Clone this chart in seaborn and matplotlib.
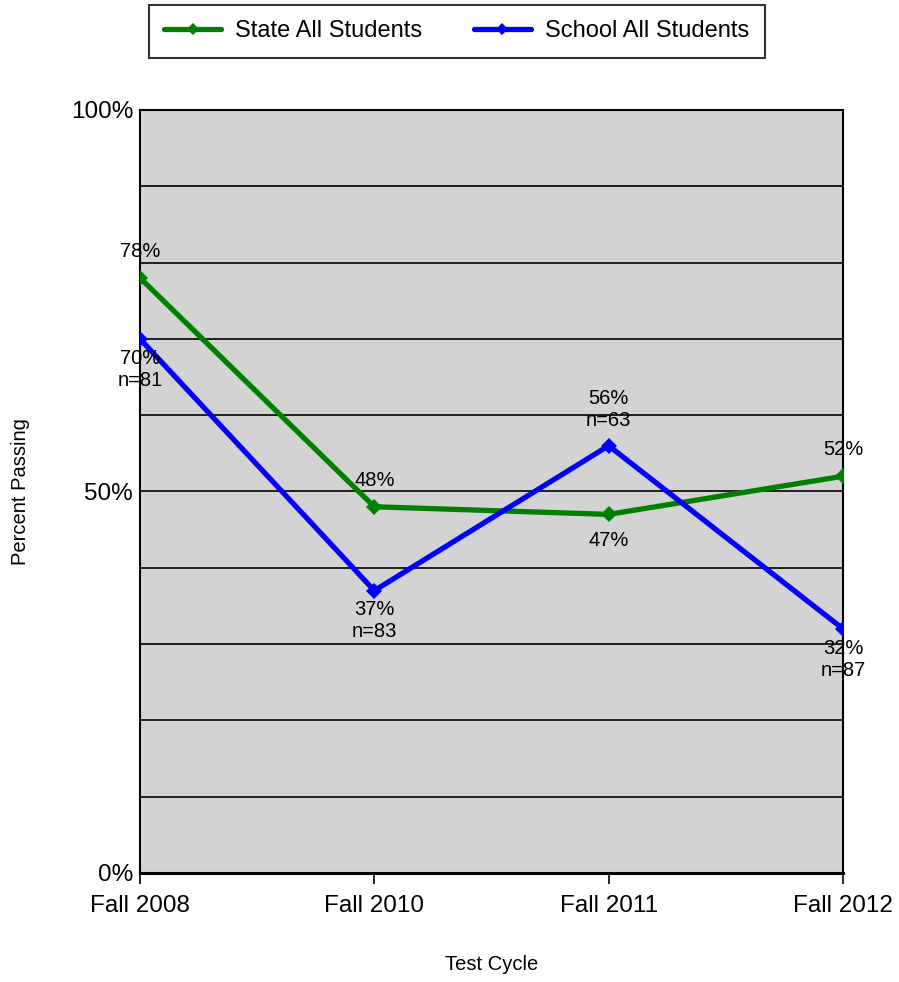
import pandas as pd
import matplotlib.pyplot as plt
import seaborn as sns

# values
cycles = ["Fall 2008", "Fall 2010", "Fall 2011", "Fall 2012"]
state_pct = [78, 48, 47, 52]
school_pct = [70, 37, 56, 32]
school_n = [81, 83, 63, 87]
series_names = ["State All Students", "School All Students"]

rows = []
for i, c in enumerate(cycles):
    rows.append({"idx": i, "cycle": c, "pct": state_pct[i], "series": series_names[0]})
    rows.append({"idx": i, "cycle": c, "pct": school_pct[i], "series": series_names[1]})
df = pd.DataFrame(rows)

sns.set_style("white")
plt.rcParams['font.family'] = ['Liberation Sans', 'DejaVu Sans']
plt.rcParams['text.color'] = 'black'
plt.rcParams['axes.labelcolor'] = 'black'
plt.rcParams['xtick.color'] = 'black'
plt.rcParams['ytick.color'] = 'black'

fig = plt.figure(figsize=(8.99, 9.82), dpi=100)
ax = fig.add_axes([0.1557, 0.111, 0.782, 0.777])
ax.set_facecolor("#d3d3d3")

sns.lineplot(data=df, x="idx", y="pct", hue="series", hue_order=series_names,
             palette=["#008000", "#0000ff"], marker="D", markersize=8.5,
             markeredgewidth=0, linewidth=3.8, sort=False, ax=ax, zorder=5)

ax.set_xlim(0, len(cycles) - 1)
ax.set_ylim(0, 100)
ax.set_xticks(range(len(cycles)))
ax.set_xticklabels(cycles, fontsize=17.5)
ax.set_yticks([0, 50, 100])
ax.set_yticklabels(["0%", "50%", "100%"], fontsize=17.5)
for y in range(10, 100, 10):
    ax.axhline(y, color="black", linewidth=1.2, zorder=1)
ax.tick_params(axis="x", direction="out", length=8, width=1.2, color="black", pad=8, bottom=True)
ax.tick_params(axis="y", length=0, pad=5)
for s in ax.spines.values():
    s.set_color("black")
    s.set_linewidth(1.5)
ax.spines["bottom"].set_linewidth(2.2)

ax.set_xlabel("Test Cycle", fontsize=14.5)
ax.set_ylabel("Percent Passing", fontsize=14.5)
ax.xaxis.set_label_coords(0.5, -0.108)
ax.yaxis.set_label_coords(-0.156, 0.5)

# state labels: above, except Fall 2011 below
state_pos = ["above", "above", "below", "above"]
for i, v in enumerate(state_pct):
    dy = 19 if state_pos[i] == "above" else -19
    ax.annotate(f"{v}%", (i, v), xytext=(0, dy), textcoords="offset points",
                ha="center", va="center", fontsize=14.5, zorder=6)

# school labels: below, except Fall 2011 above
school_pos = ["below", "below", "above", "below"]
for i, v in enumerate(school_pct):
    txt = f"{v}%\nn={school_n[i]}"
    if school_pos[i] == "above":
        ax.annotate(txt, (i, v), xytext=(0, 11), textcoords="offset points",
                    ha="center", va="bottom", fontsize=14.5, linespacing=1.2, zorder=6)
    else:
        ax.annotate(txt, (i, v), xytext=(0, -7), textcoords="offset points",
                    ha="center", va="top", fontsize=14.5, linespacing=1.2, zorder=6)

ax.legend_.remove()
handles, labels = ax.get_legend_handles_labels()
leg = fig.legend(handles, labels, loc="upper center", bbox_to_anchor=(0.508, 1 - 5 / 982),
                 ncol=2, fontsize=17, frameon=True, fancybox=False, edgecolor="black",
                 handlelength=2.4, columnspacing=2.2, borderpad=0.65, borderaxespad=0,
                 handletextpad=0.6)
leg.get_frame().set_linewidth(1.5)
for h in leg.get_lines():
    h.set_markersize(6)

fig.savefig("out.png", dpi=100)
